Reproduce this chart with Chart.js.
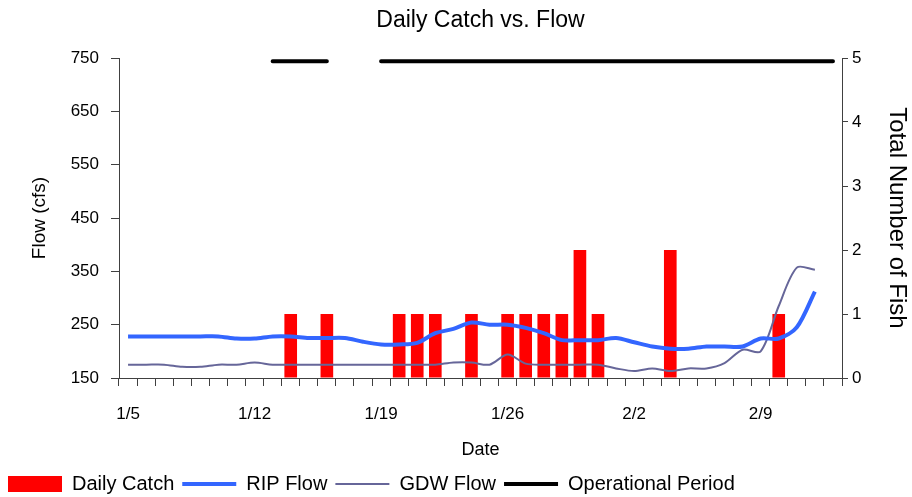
<!DOCTYPE html>
<html>
<head>
<meta charset="utf-8">
<title>Daily Catch vs. Flow</title>
<script src="https://cdn.jsdelivr.net/npm/chart.js@4.4.1/dist/chart.umd.min.js"></script>
<style>
  body { margin: 0; background: #fff; }
  #wrap { width: 912px; height: 497px; position: relative; }
</style>
</head>
<body>
<div id="wrap"><canvas id="catchChart"></canvas></div>
<script>
// Categories: one per day
const dates = [
  '1/5', '1/6', '1/7', '1/8', '1/9', '1/10', '1/11', '1/12', '1/13', '1/14',
  '1/15', '1/16', '1/17', '1/18', '1/19', '1/20', '1/21', '1/22', '1/23', '1/24',
  '1/25', '1/26', '1/27', '1/28', '1/29', '1/30', '1/31', '2/1', '2/2', '2/3',
  '2/4', '2/5', '2/6', '2/7', '2/8', '2/9', '2/10', '2/11', '2/12', '2/13'
];
// Only weekly labels are printed on the axis
const tickLabels = ['1/5', '1/12', '1/19', '1/26', '2/2', '2/9'];

// Fish caught per day (right axis)
const dailyCatch = [
  0, 0, 0, 0, 0, 0, 0, 0, 0, 1,
  0, 1, 0, 0, 0, 1, 1, 1, 0, 1,
  0, 1, 1, 1, 1, 2, 1, 0, 0, 0,
  2, 0, 0, 0, 0, 0, 1, 0, 0, 0
];

// Flow in cfs (left axis)
const ripFlow = [
  228, 228, 228, 228, 228, 228, 224, 224, 228, 228,
  225, 225, 225, 218, 213, 213, 216, 234, 242, 254,
  250, 250, 244, 234, 221, 221, 221, 225, 217, 209,
  205, 205, 209, 209, 209, 224, 224, 245, 312, null
];
const gdwFlow = [
  175, 175, 175, 171, 171, 175, 175, 179, 175, 175,
  175, 175, 175, 175, 175, 175, 175, 175, 179, 179,
  175, 194, 177, 175, 175, 175, 175, 168, 163, 168,
  163, 168, 168, 178, 203, 200, 285, 357, 353, null
];

// Trap operating (drawn along the top of the right axis)
const operational = [
  null, null, null, null, null, null, null, null, 4.95, 4.95,
  4.95, 4.95, null, null, 4.95, 4.95, 4.95, 4.95, 4.95, 4.95,
  4.95, 4.95, 4.95, 4.95, 4.95, 4.95, 4.95, 4.95, 4.95, 4.95,
  4.95, 4.95, 4.95, 4.95, 4.95, 4.95, 4.95, 4.95, 4.95, 4.95
];

const chartTitle = 'Daily Catch vs. Flow';
const fontFamily = '"Liberation Sans", Arial, sans-serif';
const axisColor = '#404040';

Chart.defaults.font.family = fontFamily;
Chart.defaults.color = '#000';

// Title centred over the plot area, like the original
const areaTitle = {
  id: 'areaTitle',
  afterDraw(chart) {
    const { ctx, chartArea } = chart;
    ctx.save();
    ctx.font = '23px ' + fontFamily;
    ctx.fillStyle = '#000';
    ctx.textAlign = 'center';
    ctx.textBaseline = 'alphabetic';
    ctx.fillText(chartTitle, (chartArea.left + chartArea.right) / 2, 27);
    ctx.restore();
  }
};

new Chart(document.getElementById('catchChart'), {
  type: 'bar',
  data: {
    labels: dates,
    datasets: [
      {
        type: 'bar',
        label: 'Daily Catch',
        data: dailyCatch,
        yAxisID: 'y1',
        backgroundColor: '#ff0000',
        borderWidth: 0,
        barPercentage: 0.7,
        categoryPercentage: 1.0,
        pointStyle: 'rect',
        order: 4
      },
      {
        type: 'line',
        label: 'RIP Flow',
        data: ripFlow,
        yAxisID: 'y',
        borderColor: '#3366ff',
        backgroundColor: '#3366ff',
        borderWidth: 4,
        pointRadius: 0,
        tension: 0.3,
        fill: false,
        pointStyle: 'line',
        order: 1
      },
      {
        type: 'line',
        label: 'GDW Flow',
        data: gdwFlow,
        yAxisID: 'y',
        borderColor: '#666699',
        backgroundColor: '#666699',
        borderWidth: 2,
        pointRadius: 0,
        tension: 0.3,
        fill: false,
        pointStyle: 'line',
        order: 2
      },
      {
        type: 'line',
        label: 'Operational Period',
        data: operational,
        yAxisID: 'y1',
        borderColor: '#000',
        backgroundColor: '#000',
        borderWidth: 4,
        borderCapStyle: 'round',
        pointRadius: 0,
        spanGaps: false,
        fill: false,
        pointStyle: 'line',
        order: 0
      }
    ]
  },
  options: {
    responsive: true,
    maintainAspectRatio: false,
    animation: false,
    layout: { padding: { top: 58, left: 0, right: 0, bottom: -7 } },
    plugins: {
      title: { display: false },
      tooltip: { enabled: false },
      legend: {
        position: 'bottom',
        align: 'start',
        labels: {
          usePointStyle: true,
          pointStyleWidth: 54,
          boxHeight: 16,
          padding: 8,
          font: { size: 20 },
          color: '#000',
          sort: (a, b) => a.datasetIndex - b.datasetIndex
        }
      }
    },
    scales: {
      x: {
        offset: true,
        grid: { display: true, drawOnChartArea: false, offset: true, tickLength: 8, color: axisColor },
        border: { color: axisColor },
        ticks: {
          autoSkip: false,
          maxRotation: 0,
          padding: 18,
          font: { size: 17 },
          color: '#000',
          callback: function (value) {
            const label = this.getLabelForValue(value);
            return tickLabels.includes(label) ? label : '';
          }
        },
        title: { display: true, text: 'Date', font: { size: 18 }, color: '#000', padding: { top: 4, bottom: 5 } },
        afterFit: scale => { scale.height = 88; }
      },
      y: {
        position: 'left',
        min: 150,
        max: 750,
        grid: { drawOnChartArea: false, tickLength: 8, color: axisColor },
        border: { color: axisColor },
        ticks: { stepSize: 100, padding: 12, font: { size: 17 }, color: '#000' },
        title: { display: true, text: 'Flow (cfs)', font: { size: 19 }, color: '#000', padding: { top: 28, bottom: 0 } },
        afterFit: scale => { scale.width = 119; }
      },
      y1: {
        position: 'right',
        min: 0,
        max: 5,
        grid: { drawOnChartArea: false, tickLength: 6, color: axisColor },
        border: { color: axisColor },
        ticks: { stepSize: 1, padding: 4, font: { size: 17 }, color: '#000' },
        title: { display: true, text: 'Total Number of Fish', font: { size: 24 }, color: '#000', padding: { top: 1, bottom: 0 } },
        afterFit: scale => { scale.width = 70; }
      }
    }
  },
  plugins: [areaTitle]
});
</script>
</body>
</html>
